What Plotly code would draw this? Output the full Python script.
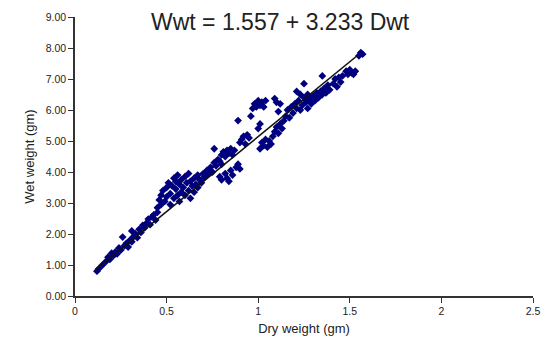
import plotly.graph_objects as go

# Scatter data (dry weight gm, wet weight gm)
dry_wt = [
    0.12, 0.13, 0.15, 0.17, 0.18, 0.19, 0.20, 0.21, 0.22, 0.23, 0.24, 0.25, 0.26, 0.27, 0.28, 0.29,
    0.30, 0.31, 0.31, 0.32, 0.33, 0.34, 0.35, 0.36, 0.37, 0.38, 0.39, 0.40, 0.41, 0.42, 0.43, 0.44,
    0.45, 0.45,
    0.46, 0.47, 0.47, 0.48, 0.49, 0.50, 0.50, 0.51, 0.52, 0.52, 0.53, 0.54, 0.54, 0.55, 0.55, 0.56,
    0.56, 0.57, 0.57, 0.58, 0.58, 0.59, 0.60, 0.60, 0.61, 0.62, 0.62, 0.63, 0.63, 0.64, 0.65, 0.65,
    0.66, 0.67, 0.67, 0.68, 0.69, 0.70, 0.70,
    0.71, 0.72, 0.73, 0.74, 0.75, 0.76, 0.76, 0.77, 0.78, 0.79, 0.80, 0.80, 0.81, 0.82, 0.83, 0.84,
    0.85, 0.86, 0.87,
    0.79, 0.80, 0.82, 0.83, 0.85, 0.86, 0.88, 0.89, 0.90, 0.84,
    0.89, 0.90, 0.91, 0.92, 0.93, 0.94, 0.95, 0.96, 0.97, 0.98, 0.99, 1.00, 1.01, 1.02, 1.03, 1.04,
    1.00, 1.01,
    1.01, 1.02, 1.03, 1.04, 1.05, 1.06, 1.07, 1.08, 1.09, 1.10, 1.11, 1.12, 1.13, 1.14,
    1.09, 1.10, 1.12, 1.11,
    1.15, 1.16, 1.17, 1.18, 1.19, 1.20, 1.21, 1.21, 1.22, 1.23, 1.23, 1.24, 1.25, 1.25, 1.26, 1.27,
    1.27, 1.28, 1.29, 1.30, 1.31, 1.32, 1.33, 1.34, 1.35, 1.35, 1.36, 1.37, 1.38, 1.39,
    1.41, 1.42, 1.43, 1.44, 1.45, 1.46, 1.48, 1.49, 1.50, 1.51, 1.52, 1.53, 1.55, 1.56, 1.57,
]
wet_wt = [
    0.80, 0.88, 1.00, 1.12, 1.25, 1.18, 1.38, 1.30, 1.42, 1.36, 1.55, 1.48, 1.90, 1.62, 1.70, 1.58,
    1.80, 2.10, 1.75, 1.92, 2.00, 1.88, 2.15, 2.05, 2.28, 2.20, 2.35, 2.48, 2.30, 2.55, 2.62, 2.45,
    2.70, 2.85,
    3.10, 2.95, 3.25, 3.40, 3.05, 3.50, 3.20, 3.65, 3.30, 2.95, 3.55, 3.80, 3.15, 3.45, 3.70, 3.25,
    3.90, 3.60, 3.05, 3.35, 3.75, 3.50, 3.85, 3.25, 3.65, 3.40, 3.95, 3.70, 3.15, 3.55, 3.80, 3.35,
    3.60, 3.50, 3.90, 3.75, 3.65, 3.95, 3.80,
    3.85, 4.05, 3.95, 4.15, 4.00, 4.30, 4.75, 4.20, 4.40, 4.35, 4.55, 4.25, 4.65, 4.50, 4.70, 4.60,
    4.75, 4.55, 4.70,
    3.85, 3.75, 3.95, 3.80, 4.05, 3.90, 4.15, 4.25, 4.10, 3.70,
    5.66, 4.95, 5.05, 5.15, 4.90, 5.20, 5.10, 5.80, 6.05, 6.20, 6.10, 6.30, 6.15, 6.25, 6.10, 6.30,
    5.40, 5.55,
    4.75, 4.95, 4.85, 5.05, 4.80, 5.00, 4.90, 5.15, 5.30, 5.45, 5.25, 5.55, 5.40, 5.65,
    6.37, 6.25, 6.20, 5.95,
    5.80, 6.00, 5.75, 6.10, 5.90, 6.20, 6.05, 6.60, 6.30, 6.00, 6.50, 6.15, 6.40, 6.85, 6.25, 6.05,
    6.50, 6.35, 6.20, 6.45, 6.30, 6.55, 6.40, 6.60, 6.50, 7.10, 6.70, 6.55, 6.80, 6.65,
    6.85, 7.00, 6.75, 7.05, 6.90, 7.10, 7.25, 7.15, 7.30, 7.20, 7.15, 7.25, 7.75, 7.85, 7.80,
]

# Fitted line as drawn in the reference (endpoints)
fit_x = [0.11, 1.54]
fit_y = [0.84, 7.75]

equation = "Wwt = 1.557 + 3.233 Dwt"
x_title = "Dry weight (gm)"
y_title = "Wet weight (gm)"
x_ticks = [0, 0.5, 1, 1.5, 2, 2.5]
y_ticks = [0, 1, 2, 3, 4, 5, 6, 7, 8, 9]

fig = go.Figure()
fig.add_trace(go.Scatter(
    x=dry_wt, y=wet_wt, mode="markers",
    marker=dict(symbol="diamond", size=6, color="#00007f", line=dict(width=0)),
    showlegend=False,
))
fig.add_trace(go.Scatter(
    x=fit_x, y=fit_y, mode="lines",
    line=dict(color="#111111", width=1.6),
    showlegend=False,
))

axis_common = dict(
    showgrid=False, zeroline=False, showline=True, linecolor="#333333", linewidth=1.5,
    ticks="outside", ticklen=5, tickcolor="#333333", tickwidth=1.2,
    tickfont=dict(family="Arial, Liberation Sans, sans-serif", size=10.5, color="#222222"),
)

fig.update_layout(
    width=551, height=351,
    margin=dict(l=75, r=11, t=16, b=55),
    paper_bgcolor="white", plot_bgcolor="white",
    xaxis=dict(range=[0, 2.5], tickvals=x_ticks,
               title=dict(text=x_title, font=dict(family="Arial, Liberation Sans, sans-serif", size=13, color="#222222"), standoff=8),
               **axis_common),
    yaxis=dict(range=[0, 9], tickvals=y_ticks, tickformat=".2f",
               title=dict(text=y_title, font=dict(family="Arial, Liberation Sans, sans-serif", size=13, color="#222222"), standoff=8),
               **axis_common),
    annotations=[dict(
        text=equation, xref="paper", yref="paper", x=0.448, y=0.982,
        xanchor="center", yanchor="middle", showarrow=False,
        font=dict(family="Arial, Liberation Sans, sans-serif", size=23, color="#222222"),
    )],
)

fig.write_html("out.html")
